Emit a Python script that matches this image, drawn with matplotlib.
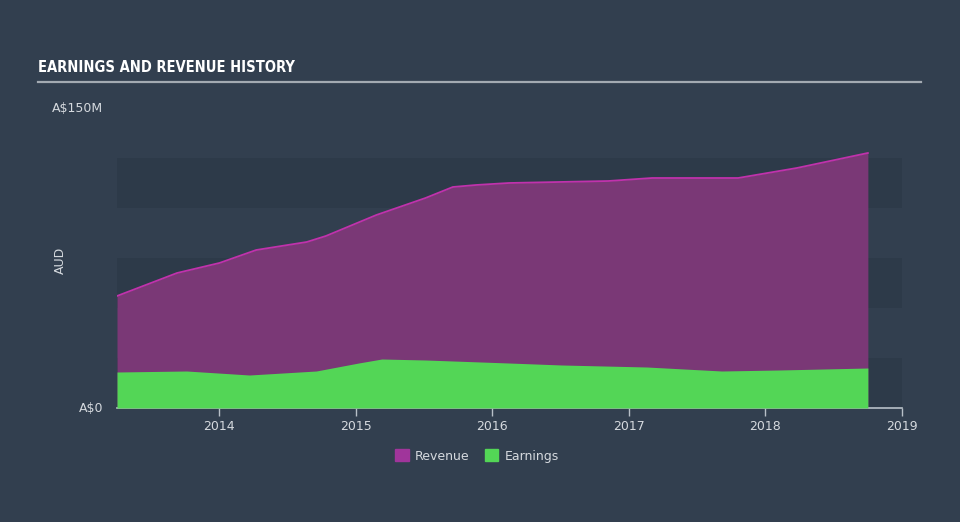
import matplotlib.pyplot as plt
from matplotlib.patches import Patch

# decimal years, values in A$ millions
rev_x = [2013.25, 2013.69, 2014.0, 2014.27, 2014.64, 2014.78, 2015.15, 2015.51,
         2015.71, 2015.88, 2016.12, 2016.85, 2017.17, 2017.80, 2018.23, 2018.75]
revenue = [56, 67.5, 72.5, 79, 83, 86, 96.5, 105,
           110.5, 111.5, 112.5, 113.5, 115, 115, 120, 127.5]

earn_x = [2013.25, 2013.76, 2014.22, 2014.71, 2015.02, 2015.19, 2015.51, 2016.12,
          2016.51, 2017.13, 2017.68, 2018.10, 2018.75]
earnings = [18, 18.5, 16.5, 18.5, 22.5, 24.5, 24, 22.5,
            21.5, 20.5, 18.5, 19, 20]

years = [2014, 2015, 2016, 2017, 2018, 2019]
year_labels = ["2014", "2015", "2016", "2017", "2018", "2019"]

bg = "#323f4f"
band_dark = "#2d3a49"
txt = "#d5d9de"

fig = plt.figure(figsize=(9.6, 5.22), dpi=100, facecolor=bg)
ax = fig.add_axes([117 / 960, 1 - 408 / 522, 785 / 960, 300 / 522])
ax.set_facecolor(bg)

# alternating bands every 25M
for lo in range(0, 125, 50):
    ax.axhspan(lo, lo + 25, color=band_dark, zorder=0, lw=0)

ax.fill_between(rev_x, revenue, color="#7a3876", zorder=1, lw=0)
ax.plot(rev_x, revenue, color="#c032ac", lw=1.3, zorder=2)
ax.fill_between(earn_x, earnings, color="#53d656", zorder=3, lw=0)

ax.set_xlim(2013.25, 2019.0)
ax.set_ylim(0, 150)

for s in ["top", "right", "left"]:
    ax.spines[s].set_visible(False)
ax.spines["bottom"].set_color("#b8c0c8")
ax.spines["bottom"].set_linewidth(1.2)

ax.set_xticks(years)
ax.set_xticklabels(year_labels)
ax.tick_params(axis="x", colors="#b8c0c8", labelcolor=txt, length=6, width=1, labelsize=9, pad=3)
ax.set_yticks([])

ax.text(-14 / 785 * 5.75 + 2013.25, 150, "A$150M", ha="right", va="center", color=txt, fontsize=9)
ax.text(-14 / 785 * 5.75 + 2013.25, 0, "A$0", ha="right", va="center", color=txt, fontsize=9)
fig.text(60 / 960, 1 - 260 / 522, "AUD", rotation=90, ha="center", va="center", color=txt, fontsize=9)

fig.text(38 / 960, 1 - 68 / 522, "EARNINGS AND REVENUE HISTORY", ha="left", va="center",
         color="white", fontsize=10.5, fontweight="bold", fontstretch="condensed",
         family=["DejaVu Sans"])
fig.add_artist(plt.Line2D([38 / 960, 921 / 960], [1 - 82 / 522, 1 - 82 / 522],
                          color="#a3aab2", lw=1.6))

handles = [Patch(color="#a0359b", label="Revenue"), Patch(color="#53d656", label="Earnings")]
fig.legend(handles=handles, loc="center", bbox_to_anchor=(477 / 960, 1 - 456 / 522), ncol=2,
           frameon=False, fontsize=9, labelcolor=txt, handlelength=1.1, handleheight=1.1,
           columnspacing=1.2, handletextpad=0.5)

plt.savefig("out.png", dpi=100, facecolor=bg)
